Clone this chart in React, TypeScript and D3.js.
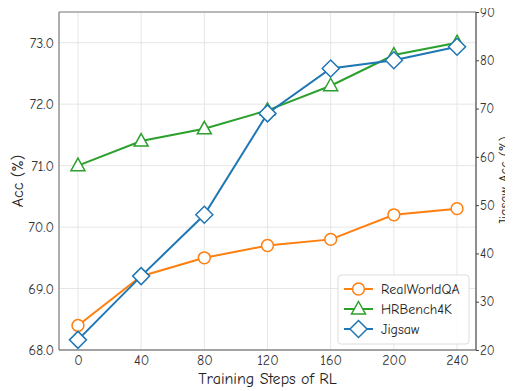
import { useEffect, useRef } from 'react';
import * as d3 from 'd3';

const steps = [0, 40, 80, 120, 160, 200, 240];
const realWorldQA = [68.4, 69.2, 69.5, 69.7, 69.8, 70.2, 70.3];
const hrBench4K = [71.0, 71.4, 71.6, 71.9, 72.3, 72.8, 73.0];
const jigsaw = [22.1, 35.3, 48.0, 69.0, 78.3, 80.0, 82.8];
const leftTicks = [68, 69, 70, 71, 72, 73];
const rightTicks = [20, 30, 40, 50, 60, 70, 80, 90];

const FONT = "'Comic Sans MS', 'Comic Neue', 'DejaVu Sans', sans-serif";

export default function App() {
  const svgRef = useRef<SVGSVGElement>(null);

  useEffect(() => {
    const width = 513;
    const height = 391;
    const svg = d3.select(svgRef.current);
    svg.selectAll('*').remove();

    const margin = { top: 12, right: 37, bottom: 41, left: 59 };
    const w = width - margin.left - margin.right;
    const h = height - margin.top - margin.bottom;

    svg.attr('width', width).attr('height', height);
    const g = svg.append('g').attr('transform', `translate(${margin.left},${margin.top})`);

    const x = d3.scaleLinear().domain([-12, 252]).range([0, w]);
    const yL = d3.scaleLinear().domain([68, 73.5]).range([h, 0]);
    const yR = d3.scaleLinear().domain([20, 90]).range([h, 0]);

    // grid
    g.append('g')
      .selectAll('line')
      .data(leftTicks)
      .join('line')
      .attr('x1', 0).attr('x2', w)
      .attr('y1', d => yL(d)).attr('y2', d => yL(d))
      .attr('stroke', '#e6e6e6');
    g.append('g')
      .selectAll('line')
      .data(steps)
      .join('line')
      .attr('x1', d => x(d)).attr('x2', d => x(d))
      .attr('y1', 0).attr('y2', h)
      .attr('stroke', '#e6e6e6');

    // spines
    g.append('line').attr('x1', 0).attr('x2', w).attr('y1', 0).attr('y2', 0).attr('stroke', '#a0a0a0').attr('stroke-width', 1.5);
    g.append('line').attr('x1', 0).attr('x2', 0).attr('y1', 0).attr('y2', h).attr('stroke', '#777').attr('stroke-width', 1.2);
    g.append('line').attr('x1', 0).attr('x2', w).attr('y1', h).attr('y2', h).attr('stroke', '#555').attr('stroke-width', 1.2);
    g.append('line').attr('x1', w).attr('x2', w).attr('y1', 0).attr('y2', h).attr('stroke', '#444').attr('stroke-width', 1.2);

    // axes
    const xAxis = g.append('g')
      .attr('transform', `translate(0,${h})`)
      .call(d3.axisBottom(x).tickValues(steps).tickSize(0).tickPadding(5).tickFormat(d3.format('d')));
    xAxis.select('.domain').remove();

    const leftAxis = g.append('g')
      .call(d3.axisLeft(yL).tickValues(leftTicks).tickSize(0).tickPadding(5).tickFormat(d3.format('.1f')));
    leftAxis.select('.domain').remove();

    const rightAxis = g.append('g')
      .attr('transform', `translate(${w},0)`)
      .call(d3.axisRight(yR).tickValues(rightTicks).tickSize(3).tickPadding(1));
    rightAxis.select('.domain').remove();

    g.selectAll('.tick line').attr('stroke', '#444');
    g.selectAll('.tick text')
      .attr('fill', '#333')
      .attr('font-size', '14px')
      .attr('font-family', FONT);
    rightAxis.selectAll('.tick text').attr('font-size', '13px');

    // axis labels
    svg.append('text')
      .attr('transform', `translate(23,${margin.top + h / 2}) rotate(-90)`)
      .attr('text-anchor', 'middle')
      .attr('font-size', '16px')
      .attr('font-family', FONT)
      .attr('fill', '#222')
      .text('Acc (%)');
    svg.append('text')
      .attr('transform', `translate(509,${margin.top + h / 2}) rotate(-90)`)
      .attr('text-anchor', 'middle')
      .attr('font-size', '14px')
      .attr('font-family', FONT)
      .attr('fill', '#222')
      .text('Jigsaw Acc (%)');
    svg.append('text')
      .attr('x', margin.left + w / 2)
      .attr('y', 384)
      .attr('text-anchor', 'middle')
      .attr('font-size', '16px')
      .attr('font-family', FONT)
      .attr('fill', '#222')
      .text('Training Steps of RL');

    const series = [
      { name: 'RealWorldQA', values: realWorldQA, y: yL, color: '#ff7f0e', shape: 'circle' },
      { name: 'HRBench4K', values: hrBench4K, y: yL, color: '#2ca02c', shape: 'triangle' },
      { name: 'Jigsaw', values: jigsaw, y: yR, color: '#1f77b4', shape: 'diamond' },
    ];

    const markerPath = (shape: string) => {
      if (shape === 'circle') return d3.symbol(d3.symbolCircle, 110)();
      if (shape === 'triangle') return 'M0,-7.5L7,5L-7,5Z';
      return 'M0,-8.5L8.5,0L0,8.5L-8.5,0Z';
    };

    series.forEach(s => {
      const line = d3.line<number>()
        .x((_, i) => x(steps[i]))
        .y(d => s.y(d));
      g.append('path')
        .datum(s.values)
        .attr('fill', 'none')
        .attr('stroke', s.color)
        .attr('stroke-width', 2)
        .attr('d', line);
      g.append('g')
        .selectAll('path')
        .data(s.values)
        .join('path')
        .attr('transform', (d, i) => `translate(${x(steps[i])},${s.y(d)})`)
        .attr('d', markerPath(s.shape))
        .attr('fill', 'white')
        .attr('stroke', s.color)
        .attr('stroke-width', 1.5);
    });

    // legend
    const lg = svg.append('g').attr('transform', 'translate(338,275)');
    lg.append('rect')
      .attr('width', 131).attr('height', 69).attr('rx', 3)
      .attr('fill', 'white').attr('fill-opacity', 0.85)
      .attr('stroke', '#ddd');
    series.forEach((s, i) => {
      const yy = 14 + i * 20;
      lg.append('line').attr('x1', 6).attr('x2', 35).attr('y1', yy).attr('y2', yy)
        .attr('stroke', s.color).attr('stroke-width', 2);
      lg.append('path')
        .attr('transform', `translate(20.5,${yy})`)
        .attr('d', markerPath(s.shape))
        .attr('fill', 'white')
        .attr('stroke', s.color)
        .attr('stroke-width', 1.5);
      lg.append('text')
        .attr('x', 43).attr('y', yy + 5)
        .attr('font-size', '14px')
        .attr('font-family', FONT)
        .attr('fill', '#222')
        .text(s.name);
    });
  }, []);

  return (
    <div style={{ margin: -8 }}>
      <svg ref={svgRef} />
    </div>
  );
}
